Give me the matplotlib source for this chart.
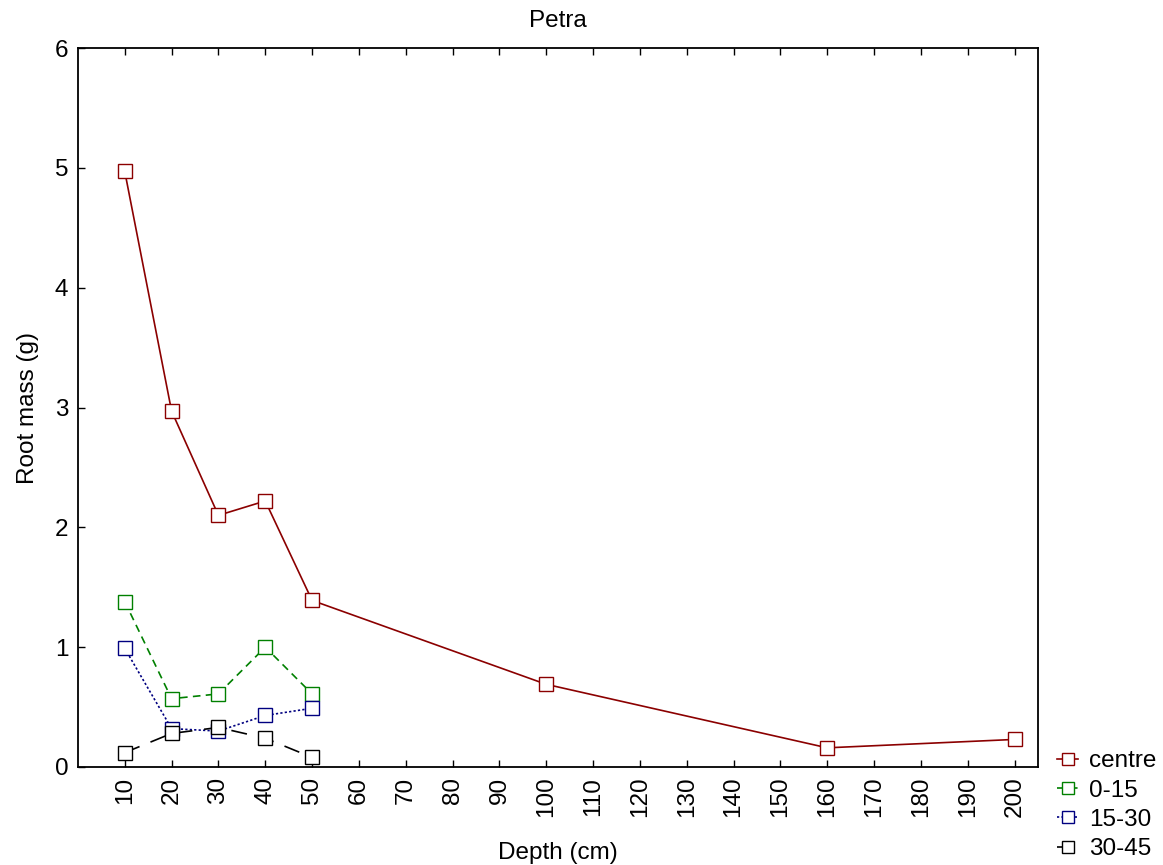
import matplotlib
matplotlib.use('Agg')
import matplotlib.pyplot as plt

plt.rcParams['font.family'] = ['Liberation Sans', 'DejaVu Sans']
plt.rcParams['lines.scale_dashes'] = False

depth = [10, 20, 30, 40, 50, 100, 160, 200]
depth_short = [10, 20, 30, 40, 50]
centre = [4.97, 2.97, 2.10, 2.22, 1.39, 0.69, 0.16, 0.23]
d0_15 = [1.38, 0.57, 0.61, 1.00, 0.61]
d15_30 = [0.99, 0.32, 0.30, 0.43, 0.49]
d30_45 = [0.12, 0.28, 0.33, 0.24, 0.08]
xticks = list(range(10, 201, 10))
yticks = [0, 1, 2, 3, 4, 5, 6]

fig = plt.figure(figsize=(11.63, 8.65), dpi=100)
ax = fig.add_axes([0.067, 0.1133, 0.8255, 0.8312])

series = [
    ('centre', depth, centre, '#8b0000', (None, None)),
    ('0-15', depth_short, d0_15, '#008000', (5.5, 3.8)),
    ('15-30', depth_short, d15_30, '#000080', (1.6, 1.6)),
    ('30-45', depth_short, d30_45, '#000000', (11.5, 8.5)),
]
for name, xs, ys, col, dash in series:
    line, = ax.plot(xs, ys, color=col, lw=1.2, marker='s', markersize=9.5,
                    markerfacecolor='white', markeredgecolor=col, markeredgewidth=1.0,
                    label=name)
    if dash[0] is not None:
        line.set_dashes(dash)

ax.set_xlim(0, 205)
ax.set_ylim(0, 6)
ax.set_xticks(xticks)
ax.set_xticklabels([str(t) for t in xticks], rotation=90)
ax.set_yticks(yticks)
ax.tick_params(axis='both', direction='in', length=5, width=1, labelsize=17.5, pad=7)
ax.tick_params(axis='x', top=True, bottom=True)
ax.tick_params(axis='y', left=True, right=False)
for s in ax.spines.values():
    s.set_linewidth(1.3)

ax.set_title('Petra', fontsize=17.5, pad=15)
ax.set_xlabel('Depth (cm)', fontsize=17.5, labelpad=18)
ax.set_ylabel('Root mass (g)', fontsize=17.5, labelpad=11)

fig.legend(loc='lower left', bbox_to_anchor=(0.905, 0.0), frameon=False, fontsize=17.5,
           handlelength=0.85, handletextpad=0.45, labelspacing=0.3, borderaxespad=0.0,
           borderpad=0.2, markerscale=0.9)

fig.savefig('out.png', dpi=100)
